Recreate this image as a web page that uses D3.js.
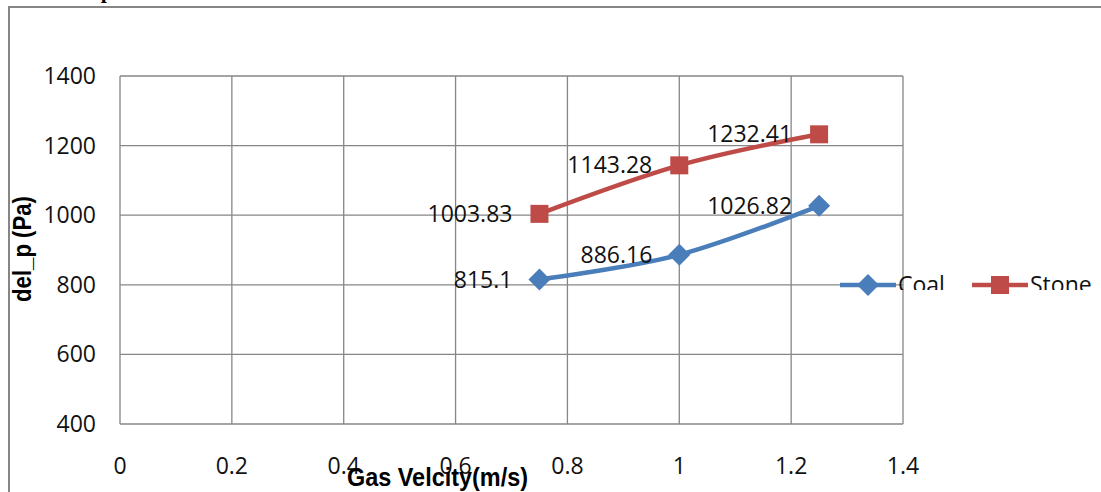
<!DOCTYPE html>
<html>
<head>
<meta charset="utf-8">
<style>
  body { margin: 0; background: #ffffff; }
  svg { display: block; }
</style>
<script src="https://cdn.jsdelivr.net/npm/d3@7"></script>
</head>
<body>
<svg id="chart" width="1101" height="492"></svg>
<script>
// data
let velocity = [0.75, 1, 1.25]
let coal = [815.1, 886.16, 1026.82]
let stone = [1003.83, 1143.28, 1232.41]
let xTicks = [0, 0.2, 0.4, 0.6, 0.8, 1, 1.2, 1.4]
let yTicks = [400, 600, 800, 1000, 1200, 1400]

let series = [
  {name: "Coal", values: coal, color: "#4a7ebb", marker: "diamond"},
  {name: "Stone", values: stone, color: "#be4b48", marker: "square"}
]

let svg = d3.select("#chart")
let plot = {left: 120, top: 76, right: 903, bottom: 424}
let grid = "#868686"
let numFont = "'Open Sans', 'Liberation Sans', Arial, sans-serif"

let x = d3.scaleLinear().domain([0, 1.4]).range([plot.left, plot.right])
let y = d3.scaleLinear().domain([400, 1400]).range([plot.bottom, plot.top])

// title that got cut off above the frame
svg.append("text")
  .attr("x", 113).attr("y", -2)
  .attr("text-anchor", "end")
  .style("font-family", "'Liberation Serif', 'Times New Roman', serif")
  .style("font-weight", "bold")
  .style("font-size", "22px")
  .text("Pressure drop")

// outer chart frame (runs off the right and bottom edges)
svg.append("rect")
  .attr("x", 9).attr("y", 7)
  .attr("width", 1200).attr("height", 600)
  .attr("fill", "none")
  .attr("stroke", grid)
  .attr("stroke-width", 2)

// grid
svg.append("g").selectAll("line").data(xTicks).enter().append("line")
  .attr("x1", d => x(d)).attr("x2", d => x(d))
  .attr("y1", plot.top).attr("y2", plot.bottom)
  .attr("stroke", grid).attr("stroke-width", 1.3)

svg.append("g").selectAll("line").data(yTicks).enter().append("line")
  .attr("x1", plot.left).attr("x2", plot.right)
  .attr("y1", d => y(d)).attr("y2", d => y(d))
  .attr("stroke", grid).attr("stroke-width", 1.3)

// tick labels
svg.append("g").selectAll("text").data(yTicks).enter().append("text")
  .attr("x", 96).attr("y", d => y(d))
  .attr("dy", "0.35em")
  .attr("text-anchor", "end")
  .style("font-family", numFont).style("font-size", "23px")
  .attr("fill", "#111")
  .text(d => d)

svg.append("g").selectAll("text").data(xTicks).enter().append("text")
  .attr("x", d => x(d)).attr("y", 466)
  .attr("dy", "0.35em")
  .attr("text-anchor", "middle")
  .style("font-family", numFont).style("font-size", "23px")
  .attr("fill", "#111")
  .text(d => d)

// axis titles (narrow bold, squeezed to the original widths)
let titleFont = "'Liberation Sans', Arial, sans-serif"
svg.append("text")
  .attr("x", 347).attr("y", 486)
  .attr("textLength", 181)
  .attr("lengthAdjust", "spacingAndGlyphs")
  .style("font-family", titleFont).style("font-weight", "bold").style("font-size", "25px")
  .text("Gas Velcity(m/s)")

svg.append("text")
  .attr("transform", "translate(31,302) rotate(-90)")
  .attr("textLength", 106)
  .attr("lengthAdjust", "spacingAndGlyphs")
  .style("font-family", titleFont).style("font-weight", "bold").style("font-size", "25px")
  .text("del_p (Pa)")

// lines
let line = d3.line()
  .x((d, i) => x(velocity[i]))
  .y(d => y(d))
  .curve(d3.curveCatmullRom.alpha(0))

function drawMarker(g, type, color, cx, cy) {
  if (type == "diamond") {
    g.append("path")
      .attr("d", `M${cx},${cy - 11}L${cx + 11},${cy}L${cx},${cy + 11}L${cx - 11},${cy}Z`)
      .attr("fill", color)
  } else {
    g.append("rect")
      .attr("x", cx - 9).attr("y", cy - 9)
      .attr("width", 18).attr("height", 18)
      .attr("fill", color)
  }
}

series.forEach(s => {
  let g = svg.append("g")
  g.append("path")
    .attr("d", line(s.values))
    .attr("fill", "none")
    .attr("stroke", s.color)
    .attr("stroke-width", 4.5)
  s.values.forEach((v, i) => drawMarker(g, s.marker, s.color, x(velocity[i]), y(v)))
  // data labels sit to the left of each point
  g.selectAll("text").data(s.values).enter().append("text")
    .attr("x", (d, i) => x(velocity[i]) - 27)
    .attr("y", d => y(d))
    .attr("dy", "0.35em")
    .attr("text-anchor", "end")
    .style("font-family", numFont).style("font-size", "23px")
    .attr("fill", "#111")
    .text(d => d)
})

// legend (its text gets clipped at the bottom like the original)
svg.append("clipPath").attr("id", "legclip")
  .append("rect").attr("x", 0).attr("y", 0).attr("width", 1101).attr("height", 290)

let legendX = [840, 972]
series.forEach((s, i) => {
  let g = svg.append("g")
  let lx = legendX[i]
  g.append("line")
    .attr("x1", lx).attr("x2", lx + 56)
    .attr("y1", 285).attr("y2", 285)
    .attr("stroke", s.color).attr("stroke-width", 4.5)
  drawMarker(g, s.marker, s.color, lx + 28, 285)
  g.append("text")
    .attr("x", lx + 58).attr("y", 285)
    .attr("dy", "0.35em")
    .attr("clip-path", "url(#legclip)")
    .style("font-family", numFont).style("font-size", "23px")
    .attr("fill", "#111")
    .text(s.name)
})
</script>
</body>
</html>
